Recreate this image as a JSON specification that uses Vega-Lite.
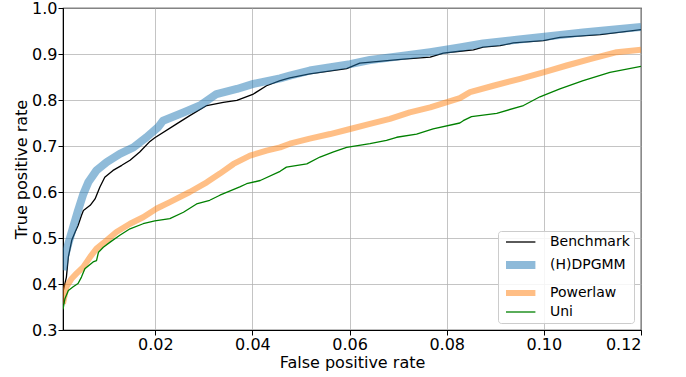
{
  "$schema": "https://vega.github.io/schema/vega-lite/v6.json",
  "width": 578,
  "height": 322,
  "autosize": "none",
  "padding": {"left": 63, "top": 8, "right": 45, "bottom": 47},
  "background": "white",
  "config": {
    "font": "DejaVu Sans",
    "view": {"stroke": "black", "strokeWidth": 1.2},
    "axis": {
      "labelFont": "DejaVu Sans", "titleFont": "DejaVu Sans",
      "labelFontSize": 16, "titleFontSize": 16, "titleFontWeight": "normal",
      "labelColor": "black", "titleColor": "black",
      "domainColor": "black", "tickColor": "black", "tickSize": 5, "labelPadding": 1,
      "gridColor": "#b0b0b0", "gridWidth": 1, "gridOpacity": 0.75
    },
    "legend": {"labelFont": "DejaVu Sans", "labelFontSize": 14, "labelColor": "black"}
  },
  "data": {
    "values": [
      {"s": "Benchmark", "x": 0.001, "y": 0.383},
      {"s": "Benchmark", "x": 0.0017, "y": 0.415},
      {"s": "Benchmark", "x": 0.0021, "y": 0.459},
      {"s": "Benchmark", "x": 0.0028, "y": 0.495},
      {"s": "Benchmark", "x": 0.0035, "y": 0.513},
      {"s": "Benchmark", "x": 0.0041, "y": 0.527},
      {"s": "Benchmark", "x": 0.0048, "y": 0.549},
      {"s": "Benchmark", "x": 0.0052, "y": 0.560},
      {"s": "Benchmark", "x": 0.0066, "y": 0.571},
      {"s": "Benchmark", "x": 0.0076, "y": 0.585},
      {"s": "Benchmark", "x": 0.0086, "y": 0.611},
      {"s": "Benchmark", "x": 0.0096, "y": 0.632},
      {"s": "Benchmark", "x": 0.0113, "y": 0.647},
      {"s": "Benchmark", "x": 0.0131, "y": 0.658},
      {"s": "Benchmark", "x": 0.0148, "y": 0.669},
      {"s": "Benchmark", "x": 0.0168, "y": 0.687},
      {"s": "Benchmark", "x": 0.0189, "y": 0.710},
      {"s": "Benchmark", "x": 0.0199, "y": 0.718},
      {"s": "Benchmark", "x": 0.0244, "y": 0.748},
      {"s": "Benchmark", "x": 0.0271, "y": 0.766},
      {"s": "Benchmark", "x": 0.0306, "y": 0.788},
      {"s": "Benchmark", "x": 0.0340, "y": 0.795},
      {"s": "Benchmark", "x": 0.0368, "y": 0.799},
      {"s": "Benchmark", "x": 0.0402, "y": 0.813},
      {"s": "Benchmark", "x": 0.0429, "y": 0.831},
      {"s": "Benchmark", "x": 0.0457, "y": 0.842},
      {"s": "Benchmark", "x": 0.0477, "y": 0.848},
      {"s": "Benchmark", "x": 0.0518, "y": 0.857},
      {"s": "Benchmark", "x": 0.0594, "y": 0.868},
      {"s": "Benchmark", "x": 0.0621, "y": 0.880},
      {"s": "Benchmark", "x": 0.0711, "y": 0.889},
      {"s": "Benchmark", "x": 0.0766, "y": 0.893},
      {"s": "Benchmark", "x": 0.0793, "y": 0.902},
      {"s": "Benchmark", "x": 0.0827, "y": 0.906},
      {"s": "Benchmark", "x": 0.0855, "y": 0.909},
      {"s": "Benchmark", "x": 0.0875, "y": 0.915},
      {"s": "Benchmark", "x": 0.0910, "y": 0.918},
      {"s": "Benchmark", "x": 0.0937, "y": 0.924},
      {"s": "Benchmark", "x": 0.0999, "y": 0.929},
      {"s": "Benchmark", "x": 0.1033, "y": 0.936},
      {"s": "Benchmark", "x": 0.1116, "y": 0.942},
      {"s": "Benchmark", "x": 0.12, "y": 0.953},
      {"s": "(H)DPGMM", "x": 0.001, "y": 0.43},
      {"s": "(H)DPGMM", "x": 0.0014, "y": 0.459},
      {"s": "(H)DPGMM", "x": 0.0021, "y": 0.488},
      {"s": "(H)DPGMM", "x": 0.0031, "y": 0.524},
      {"s": "(H)DPGMM", "x": 0.0041, "y": 0.560},
      {"s": "(H)DPGMM", "x": 0.0052, "y": 0.596},
      {"s": "(H)DPGMM", "x": 0.0062, "y": 0.621},
      {"s": "(H)DPGMM", "x": 0.0079, "y": 0.647},
      {"s": "(H)DPGMM", "x": 0.0100, "y": 0.665},
      {"s": "(H)DPGMM", "x": 0.0127, "y": 0.683},
      {"s": "(H)DPGMM", "x": 0.0155, "y": 0.697},
      {"s": "(H)DPGMM", "x": 0.0182, "y": 0.719},
      {"s": "(H)DPGMM", "x": 0.0206, "y": 0.741},
      {"s": "(H)DPGMM", "x": 0.0216, "y": 0.755},
      {"s": "(H)DPGMM", "x": 0.0258, "y": 0.773},
      {"s": "(H)DPGMM", "x": 0.0292, "y": 0.788},
      {"s": "(H)DPGMM", "x": 0.0326, "y": 0.813},
      {"s": "(H)DPGMM", "x": 0.0368, "y": 0.824},
      {"s": "(H)DPGMM", "x": 0.0402, "y": 0.835},
      {"s": "(H)DPGMM", "x": 0.0457, "y": 0.847},
      {"s": "(H)DPGMM", "x": 0.0477, "y": 0.853},
      {"s": "(H)DPGMM", "x": 0.0518, "y": 0.864},
      {"s": "(H)DPGMM", "x": 0.0601, "y": 0.878},
      {"s": "(H)DPGMM", "x": 0.0642, "y": 0.887},
      {"s": "(H)DPGMM", "x": 0.0711, "y": 0.896},
      {"s": "(H)DPGMM", "x": 0.0766, "y": 0.904},
      {"s": "(H)DPGMM", "x": 0.0827, "y": 0.914},
      {"s": "(H)DPGMM", "x": 0.0875, "y": 0.923},
      {"s": "(H)DPGMM", "x": 0.0944, "y": 0.931},
      {"s": "(H)DPGMM", "x": 0.1006, "y": 0.938},
      {"s": "(H)DPGMM", "x": 0.1081, "y": 0.947},
      {"s": "(H)DPGMM", "x": 0.12, "y": 0.959},
      {"s": "Powerlaw", "x": 0.001, "y": 0.357},
      {"s": "Powerlaw", "x": 0.0017, "y": 0.394},
      {"s": "Powerlaw", "x": 0.0028, "y": 0.412},
      {"s": "Powerlaw", "x": 0.0038, "y": 0.423},
      {"s": "Powerlaw", "x": 0.0052, "y": 0.437},
      {"s": "Powerlaw", "x": 0.0066, "y": 0.459},
      {"s": "Powerlaw", "x": 0.0079, "y": 0.477},
      {"s": "Powerlaw", "x": 0.0100, "y": 0.495},
      {"s": "Powerlaw", "x": 0.0120, "y": 0.513},
      {"s": "Powerlaw", "x": 0.0148, "y": 0.531},
      {"s": "Powerlaw", "x": 0.0175, "y": 0.545},
      {"s": "Powerlaw", "x": 0.0203, "y": 0.564},
      {"s": "Powerlaw", "x": 0.0230, "y": 0.578},
      {"s": "Powerlaw", "x": 0.0271, "y": 0.600},
      {"s": "Powerlaw", "x": 0.0306, "y": 0.621},
      {"s": "Powerlaw", "x": 0.0333, "y": 0.640},
      {"s": "Powerlaw", "x": 0.0361, "y": 0.661},
      {"s": "Powerlaw", "x": 0.0395, "y": 0.679},
      {"s": "Powerlaw", "x": 0.0429, "y": 0.690},
      {"s": "Powerlaw", "x": 0.0457, "y": 0.697},
      {"s": "Powerlaw", "x": 0.0477, "y": 0.705},
      {"s": "Powerlaw", "x": 0.0518, "y": 0.716},
      {"s": "Powerlaw", "x": 0.0560, "y": 0.726},
      {"s": "Powerlaw", "x": 0.0601, "y": 0.737},
      {"s": "Powerlaw", "x": 0.0642, "y": 0.748},
      {"s": "Powerlaw", "x": 0.0683, "y": 0.759},
      {"s": "Powerlaw", "x": 0.0724, "y": 0.773},
      {"s": "Powerlaw", "x": 0.0766, "y": 0.784},
      {"s": "Powerlaw", "x": 0.0827, "y": 0.804},
      {"s": "Powerlaw", "x": 0.0848, "y": 0.817},
      {"s": "Powerlaw", "x": 0.0896, "y": 0.831},
      {"s": "Powerlaw", "x": 0.0951, "y": 0.846},
      {"s": "Powerlaw", "x": 0.0999, "y": 0.860},
      {"s": "Powerlaw", "x": 0.1047, "y": 0.875},
      {"s": "Powerlaw", "x": 0.1095, "y": 0.889},
      {"s": "Powerlaw", "x": 0.1150, "y": 0.904},
      {"s": "Powerlaw", "x": 0.12, "y": 0.909},
      {"s": "Uni", "x": 0.001, "y": 0.345},
      {"s": "Uni", "x": 0.0014, "y": 0.368},
      {"s": "Uni", "x": 0.0021, "y": 0.386},
      {"s": "Uni", "x": 0.0031, "y": 0.394},
      {"s": "Uni", "x": 0.0041, "y": 0.401},
      {"s": "Uni", "x": 0.0048, "y": 0.415},
      {"s": "Uni", "x": 0.0055, "y": 0.433},
      {"s": "Uni", "x": 0.0072, "y": 0.448},
      {"s": "Uni", "x": 0.0079, "y": 0.451},
      {"s": "Uni", "x": 0.0083, "y": 0.469},
      {"s": "Uni", "x": 0.0093, "y": 0.480},
      {"s": "Uni", "x": 0.0107, "y": 0.491},
      {"s": "Uni", "x": 0.0127, "y": 0.506},
      {"s": "Uni", "x": 0.0148, "y": 0.520},
      {"s": "Uni", "x": 0.0175, "y": 0.531},
      {"s": "Uni", "x": 0.0199, "y": 0.537},
      {"s": "Uni", "x": 0.0230, "y": 0.542},
      {"s": "Uni", "x": 0.0258, "y": 0.556},
      {"s": "Uni", "x": 0.0285, "y": 0.574},
      {"s": "Uni", "x": 0.0312, "y": 0.582},
      {"s": "Uni", "x": 0.0333, "y": 0.593},
      {"s": "Uni", "x": 0.0374, "y": 0.611},
      {"s": "Uni", "x": 0.0388, "y": 0.618},
      {"s": "Uni", "x": 0.0416, "y": 0.625},
      {"s": "Uni", "x": 0.0457, "y": 0.645},
      {"s": "Uni", "x": 0.0470, "y": 0.654},
      {"s": "Uni", "x": 0.0512, "y": 0.661},
      {"s": "Uni", "x": 0.0539, "y": 0.676},
      {"s": "Uni", "x": 0.0567, "y": 0.687},
      {"s": "Uni", "x": 0.0594, "y": 0.697},
      {"s": "Uni", "x": 0.0642, "y": 0.705},
      {"s": "Uni", "x": 0.0676, "y": 0.712},
      {"s": "Uni", "x": 0.0697, "y": 0.719},
      {"s": "Uni", "x": 0.0738, "y": 0.726},
      {"s": "Uni", "x": 0.0772, "y": 0.737},
      {"s": "Uni", "x": 0.0827, "y": 0.750},
      {"s": "Uni", "x": 0.0834, "y": 0.755},
      {"s": "Uni", "x": 0.0851, "y": 0.764},
      {"s": "Uni", "x": 0.0903, "y": 0.771},
      {"s": "Uni", "x": 0.0958, "y": 0.788},
      {"s": "Uni", "x": 0.0992, "y": 0.807},
      {"s": "Uni", "x": 0.1033, "y": 0.824},
      {"s": "Uni", "x": 0.1081, "y": 0.842},
      {"s": "Uni", "x": 0.1136, "y": 0.860},
      {"s": "Uni", "x": 0.12, "y": 0.873}
    ]
  },
  "mark": {"type": "line", "clip": true, "strokeCap": "butt", "strokeJoin": "round"},
  "encoding": {
    "x": {
      "field": "x", "type": "quantitative",
      "scale": {"domain": [0.001, 0.12], "nice": false, "zero": false},
      "axis": {"values": [0.02, 0.04, 0.06, 0.08, 0.10, 0.12], "format": ".2f", "title": "False positive rate", "titlePadding": 2}
    },
    "y": {
      "field": "y", "type": "quantitative",
      "scale": {"domain": [0.3, 1.0], "nice": false, "zero": false},
      "axis": {"values": [0.3, 0.4, 0.5, 0.6, 0.7, 0.8, 0.9, 1.0], "format": ".1f", "title": "True positive rate", "titlePadding": 2}
    },
    "order": {"field": "x", "type": "quantitative"},
    "color": {
      "field": "s", "type": "nominal", "title": null,
      "scale": {"domain": ["Benchmark", "(H)DPGMM", "Powerlaw", "Uni"], "range": ["#000000", "#1f77b4", "#ff7f0e", "#008000"]},
      "legend": {
        "orient": "bottom-right", "offset": 7,
        "symbolType": "M-1,0H3.9", "symbolSize": 144,
        "strokeColor": "#cccccc", "fillColor": "rgba(255,255,255,0.85)", "cornerRadius": 3,
        "padding": 4, "rowPadding": 0, "labelOffset": 28
      }
    },
    "strokeWidth": {
      "field": "s", "type": "nominal", "title": null,
      "scale": {"type": "ordinal", "domain": ["Benchmark", "(H)DPGMM", "Powerlaw", "Uni"], "range": [1.3, 8, 6, 1.3]}
    },
    "opacity": {
      "field": "s", "type": "nominal", "title": null,
      "scale": {"type": "ordinal", "domain": ["Benchmark", "(H)DPGMM", "Powerlaw", "Uni"], "range": [1, 0.5, 0.5, 1]}
    }
  }
}
